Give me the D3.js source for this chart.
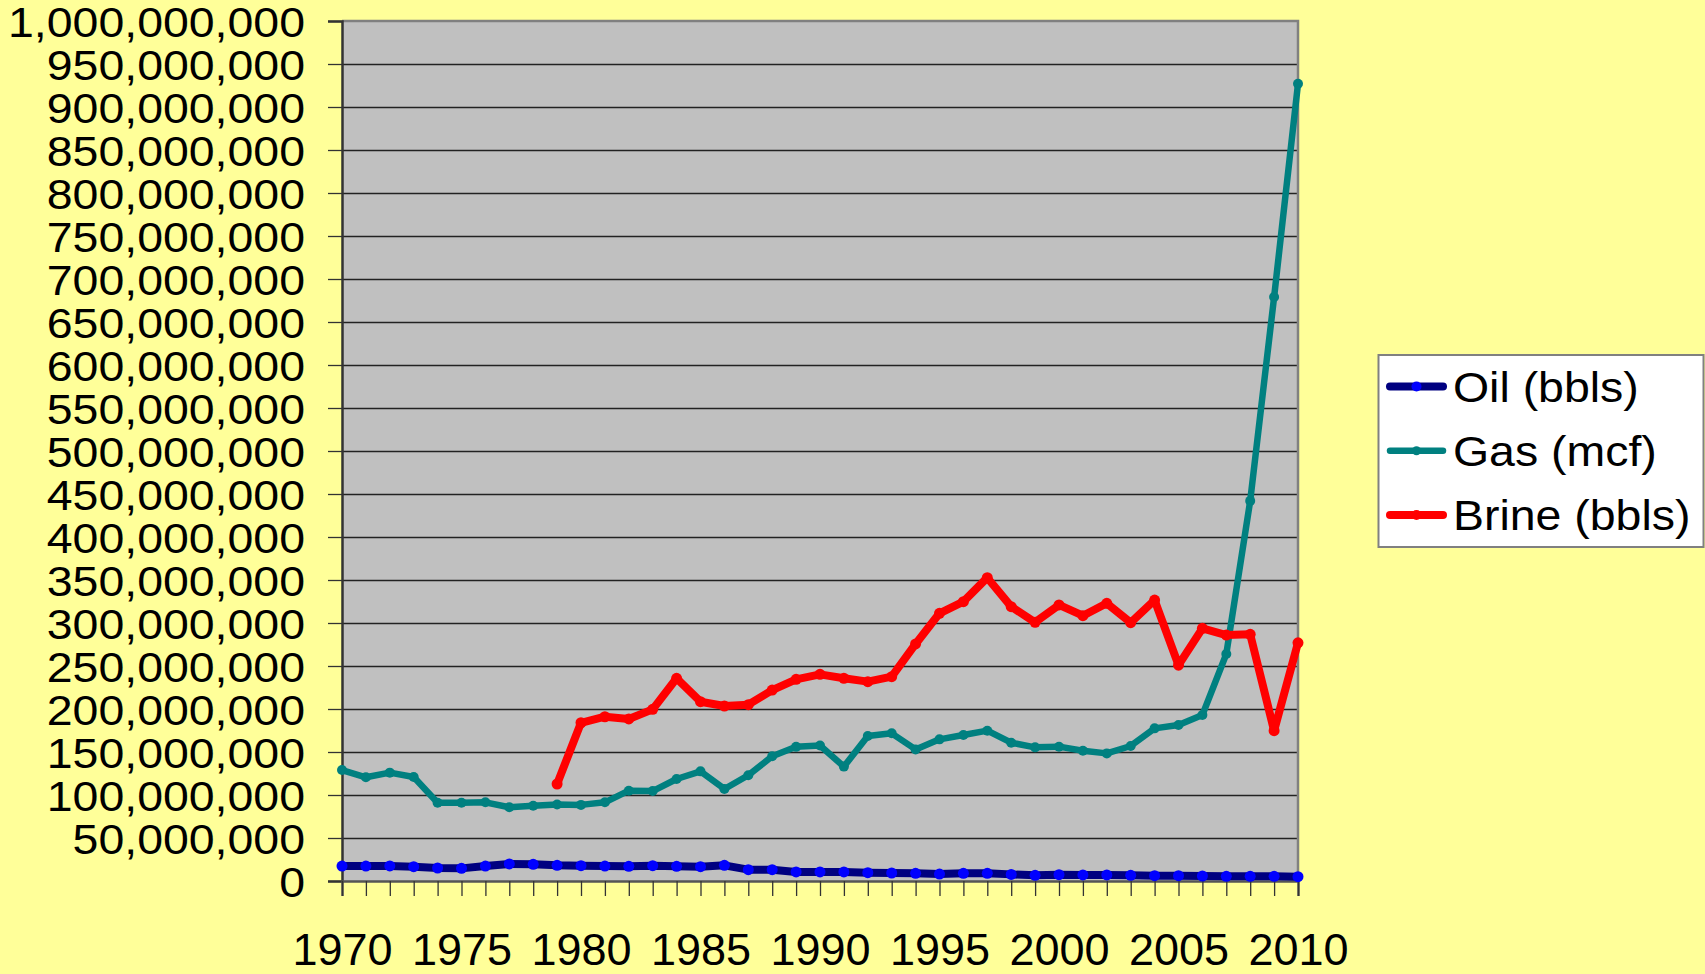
<!DOCTYPE html>
<html><head><meta charset="utf-8">
<script src="https://cdn.jsdelivr.net/npm/d3@7"></script>
<style>
html,body{margin:0;padding:0;background:#FFFF99;}
svg{display:block;}
text{font-family:"Liberation Sans",Arial,sans-serif;fill:#000;}
</style></head>
<body>
<svg id="chart" width="1705" height="974"></svg>
<script>
const years = [1970,1971,1972,1973,1974,1975,1976,1977,1978,1979,1980,1981,1982,1983,1984,1985,1986,1987,1988,1989,1990,
  1991,1992,1993,1994,1995,1996,1997,1998,1999,2000,2001,2002,2003,2004,2005,2006,2007,2008,2009,2010];
const oil = [17.4,17.4,17.5,16.7,15.1,14.7,17.4,19.8,19.4,18.2,17.8,17.4,17.1,17.8,17.1,16.7,18.2,13.2,13.2,10.5,10.5,
  10.5,9.7,9.3,8.9,8.1,8.9,8.9,7.7,6.6,7.4,7.0,7.0,6.6,6.2,6.2,5.8,5.4,5.4,5.4,5.0];
const gas = [129,120.6,126,121,91,91,91.5,85.7,87.6,89,88.5,91.5,105,104.6,118.6,127.5,107,123,145,156,157.5,
  133,168.6,171.7,153,164.7,169.8,174.8,160.8,155.4,156.2,151.5,148.4,157,177.5,181.4,193,264,442,679,927];
const brine = [null,null,null,null,null,null,null,null,null,112.8,184,191,188.4,199.6,235.7,208.5,203.5,205,222,234.5,240.3,
  235.7,231.8,237.6,275.6,311.3,324.8,352.7,319,300.8,321,308.5,322.9,300.4,326.7,251,293.8,286,286.8,174.8,277];
const seriesNames = ["Oil (bbls)","Gas (mcf)","Brine (bbls)"];
const yTicks = [0,50e6,100e6,150e6,200e6,250e6,300e6,350e6,400e6,450e6,500e6,550e6,600e6,650e6,700e6,750e6,800e6,850e6,900e6,950e6,1000e6];
const xLabelYears = [1970,1975,1980,1985,1990,1995,2000,2005,2010];

const M = 1e6;
const series = [
  {name: seriesNames[0], vals: oil, line: "#000080", marker: "#0000FF", w: 8, r: 5.5},
  {name: seriesNames[1], vals: gas, line: "#008080", marker: "#008080", w: 6.5, r: 5},
  {name: seriesNames[2], vals: brine, line: "#FF0000", marker: "#FF0000", w: 8, r: 5.5}
];

const L = 342, R = 1298, T = 21, B = 881;
const svg = d3.select("#chart");
const x = d3.scaleLinear().domain([1970, 2010]).range([L, R]);
const y = d3.scaleLinear().domain([0, 1e9]).range([B, T]);

svg.append("rect").attr("width",1705).attr("height",974).attr("fill","#FFFF99");
svg.append("rect").attr("x",L).attr("y",T).attr("width",R-L).attr("height",B-T).attr("fill","#C0C0C0");

// gridlines
const grid = svg.append("g").attr("transform",`translate(${L},0)`)
  .call(d3.axisLeft(y).tickValues(yTicks.filter(v=>v>0 && v<1e9)).tickSize(-(R-L)).tickFormat(""));
grid.select(".domain").remove();
grid.selectAll("line").attr("stroke","#222").attr("stroke-width",1.3);

// border top/right
svg.append("path").attr("d",`M${L},${T}H${R}V${B}`).attr("fill","none").attr("stroke","#808080").attr("stroke-width",2.5);

// y axis
const ya = svg.append("g").attr("transform",`translate(${L},0)`)
  .call(d3.axisLeft(y).tickValues(yTicks).tickSize(14).tickPadding(0).tickFormat(d3.format(",")));
ya.select(".domain").attr("stroke","#333").attr("stroke-width",2.5);
ya.selectAll(".tick line").attr("stroke","#333").attr("stroke-width",1.3);
ya.selectAll(".tick text").attr("x",null).attr("dy",null)
  .attr("text-anchor","end")
  .style("font-size","43px")
  .attr("transform",`translate(-37,15.4) scale(1.08,1)`);

// x axis
const xa = svg.append("g").attr("transform",`translate(0,${B})`)
  .call(d3.axisBottom(x).tickValues(years).tickSize(15).tickFormat(d => xLabelYears.includes(d) ? d : ""));
xa.select(".domain").attr("stroke","#555").attr("stroke-width",2.5);
xa.selectAll(".tick line").attr("stroke","#333").attr("stroke-width",1.3);
xa.selectAll(".tick text").attr("y",null).attr("dy",null)
  .attr("transform","translate(0,84)")
  .attr("text-anchor","middle")
  .style("font-size","45px");

// series
const lineGen = d3.line().defined(d => d.v != null).x(d => x(d.year)).y(d => y(d.v*M));
series.forEach(s => {
  const pts = years.map((yr,i) => ({year: yr, v: s.vals[i]}));
  const g = svg.append("g");
  g.append("path").datum(pts).attr("d", lineGen)
    .attr("fill","none").attr("stroke",s.line).attr("stroke-width",s.w)
    .attr("stroke-linejoin","round").attr("stroke-linecap","round");
  g.selectAll("circle").data(pts.filter(d => d.v != null)).join("circle")
    .attr("cx", d => x(d.year)).attr("cy", d => y(d.v*M)).attr("r", s.r).attr("fill", s.marker);
});

// legend
const lg = svg.append("g");
lg.append("rect").attr("x",1378.5).attr("y",355).attr("width",1325).attr("height",192)
  .attr("fill","#fff").attr("stroke","#808080").attr("stroke-width",2);
lg.select("rect").attr("width",1703.5-1378.5);
const legY = d3.scalePoint().domain(seriesNames).range([386.5, 515]);
series.forEach(s => {
  const cy = legY(s.name);
  lg.append("line").attr("x1",1390).attr("x2",1443).attr("y1",cy).attr("y2",cy)
    .attr("stroke",s.line).attr("stroke-width",s.w).attr("stroke-linecap","round");
  lg.append("circle").attr("cx",1416.5).attr("cy",cy).attr("r",s.r-0.5).attr("fill",s.marker);
  lg.append("text").attr("transform",`translate(1453,${cy+15.4}) scale(1.08,1)`)
    .style("font-size","43px").text(s.name);
});
</script>
</body></html>
